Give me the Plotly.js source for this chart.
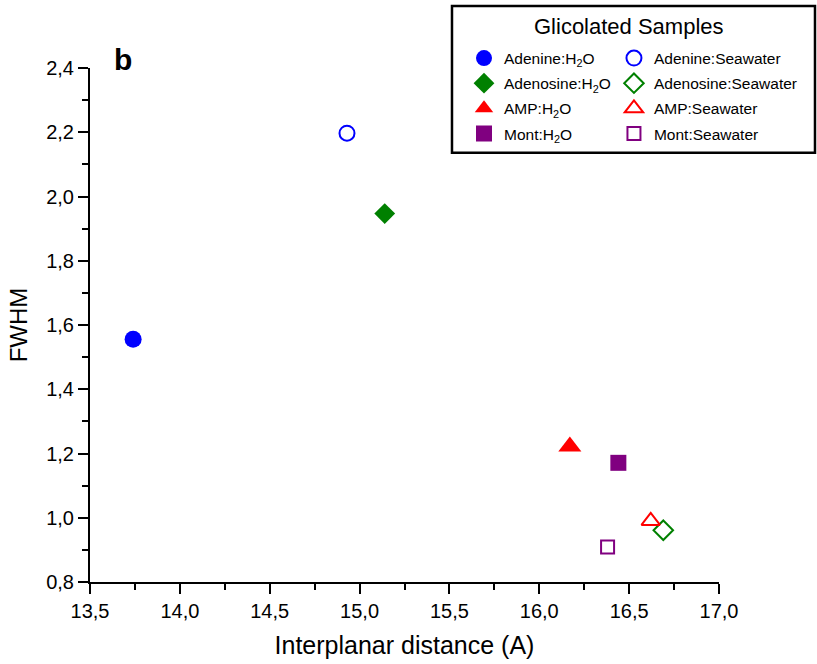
<!DOCTYPE html>
<html>
<head>
<meta charset="utf-8">
<script src="https://cdn.plot.ly/plotly-3.0.1.min.js"></script>
<style>html,body{margin:0;padding:0;background:#fff;}#chart{width:817px;height:664px;}</style>
</head>
<body>
<div id="chart"></div>
<script>
// Data
const seriesNames = ["Adenine:H<sub>2</sub>O", "Adenosine:H<sub>2</sub>O", "AMP:H<sub>2</sub>O", "Mont:H<sub>2</sub>O",
                     "Adenine:Seawater", "Adenosine:Seawater", "AMP:Seawater", "Mont:Seawater"];
const distanceX = [13.74, 15.14, 16.17, 16.44, 14.93, 16.69, 16.62, 16.38];
const fwhmY     = [1.556, 1.947, 1.222, 1.171, 2.197, 0.961, 0.990, 0.909];
const xTicks = [13.5, 14.0, 14.5, 15.0, 15.5, 16.0, 16.5, 17.0];
const yTicks = [0.8, 1.0, 1.2, 1.4, 1.6, 1.8, 2.0, 2.2, 2.4];

const colors  = ["#0000ff", "#008000", "#ff0000", "#800080", "#0000ff", "#008000", "#ff0000", "#800080"];
const symbols = ["circle", "diamond", "triangle-up", "square", "circle-open", "diamond-open", "triangle-up-open", "square-open"];
const sizes   = [17, 16, 20, 16, 15, 15, 16, 13];

const FONT = "Liberation Sans, Arial, sans-serif";

const traces = seriesNames.map((name, i) => ({
  type: "scatter",
  mode: "markers",
  name: name,
  x: [distanceX[i]],
  y: [fwhmY[i]],
  legend: i < 4 ? "legend" : "legend2",
  legendgroup: "g" + i,
  marker: {
    symbol: symbols[i],
    color: colors[i],
    size: sizes[i],
    line: {color: colors[i], width: i < 4 ? 0 : 2}
  },
  hoverinfo: "x+y+name"
}));

const legendCommon = {
  font: {family: FONT, size: 15.5, color: "#000"},
  bgcolor: "rgba(0,0,0,0)",
  borderwidth: 0,
  tracegroupgap: 2,
  xanchor: "left",
  yanchor: "top",
  orientation: "v"
};

const layout = {
  width: 817,
  height: 664,
  margin: {l: 90, r: 98, t: 68, b: 82},
  paper_bgcolor: "#fff",
  plot_bgcolor: "#fff",
  separators: ",.",
  font: {family: FONT, color: "#000"},
  showlegend: true,
  legend: Object.assign({}, legendCommon, {x: 0.5946, y: 1.0516}),
  legend2: Object.assign({}, legendCommon, {x: 0.833, y: 1.0516}),
  xaxis: {
    range: [13.5, 17.0],
    tickmode: "array",
    tickvals: xTicks,
    tickformat: ".1f",
    showgrid: false,
    zeroline: false,
    showline: true,
    linecolor: "#000",
    linewidth: 2,
    ticks: "outside",
    ticklen: 10,
    tickwidth: 2,
    tickcolor: "#000",
    tickfont: {family: FONT, size: 20, color: "#000"},
    minor: {ticks: "outside", ticklen: 6, tickwidth: 2, tickcolor: "#000", dtick: 0.25, tick0: 13.5, showgrid: false},
    title: {text: "Interplanar distance (A)", font: {family: FONT, size: 25, color: "#000"}, standoff: 15}
  },
  yaxis: {
    range: [0.8, 2.4],
    tickmode: "array",
    tickvals: yTicks,
    tickformat: ".1f",
    showgrid: false,
    zeroline: false,
    showline: true,
    linecolor: "#000",
    linewidth: 2,
    ticks: "outside",
    ticklen: 10,
    tickwidth: 2,
    tickcolor: "#000",
    tickfont: {family: FONT, size: 20, color: "#000"},
    minor: {ticks: "outside", ticklen: 6, tickwidth: 2, tickcolor: "#000", dtick: 0.1, tick0: 0.8, showgrid: false},
    title: {text: "FWHM", font: {family: FONT, size: 24, color: "#000"}, standoff: 12}
  },
  shapes: [{
    type: "rect", xref: "paper", yref: "paper",
    x0: 0.5755, x1: 1.1526, y0: 0.835, y1: 1.1206,
    line: {color: "#000", width: 2.5},
    fillcolor: "rgba(0,0,0,0)"
  }],
  annotations: [
    {text: "<b>b</b>", xref: "paper", yref: "paper", x: 0.0525, y: 1.0156,
     xanchor: "center", yanchor: "middle", showarrow: false,
     font: {family: FONT, size: 30, color: "#000"}},
    {text: "Glicolated Samples", xref: "paper", yref: "paper", x: 0.857, y: 1.0798,
     xanchor: "center", yanchor: "middle", showarrow: false,
     font: {family: FONT, size: 22, color: "#000"}}
  ]
};

Plotly.newPlot("chart", traces, layout, {displayModeBar: false, responsive: false});
</script>
</body>
</html>
